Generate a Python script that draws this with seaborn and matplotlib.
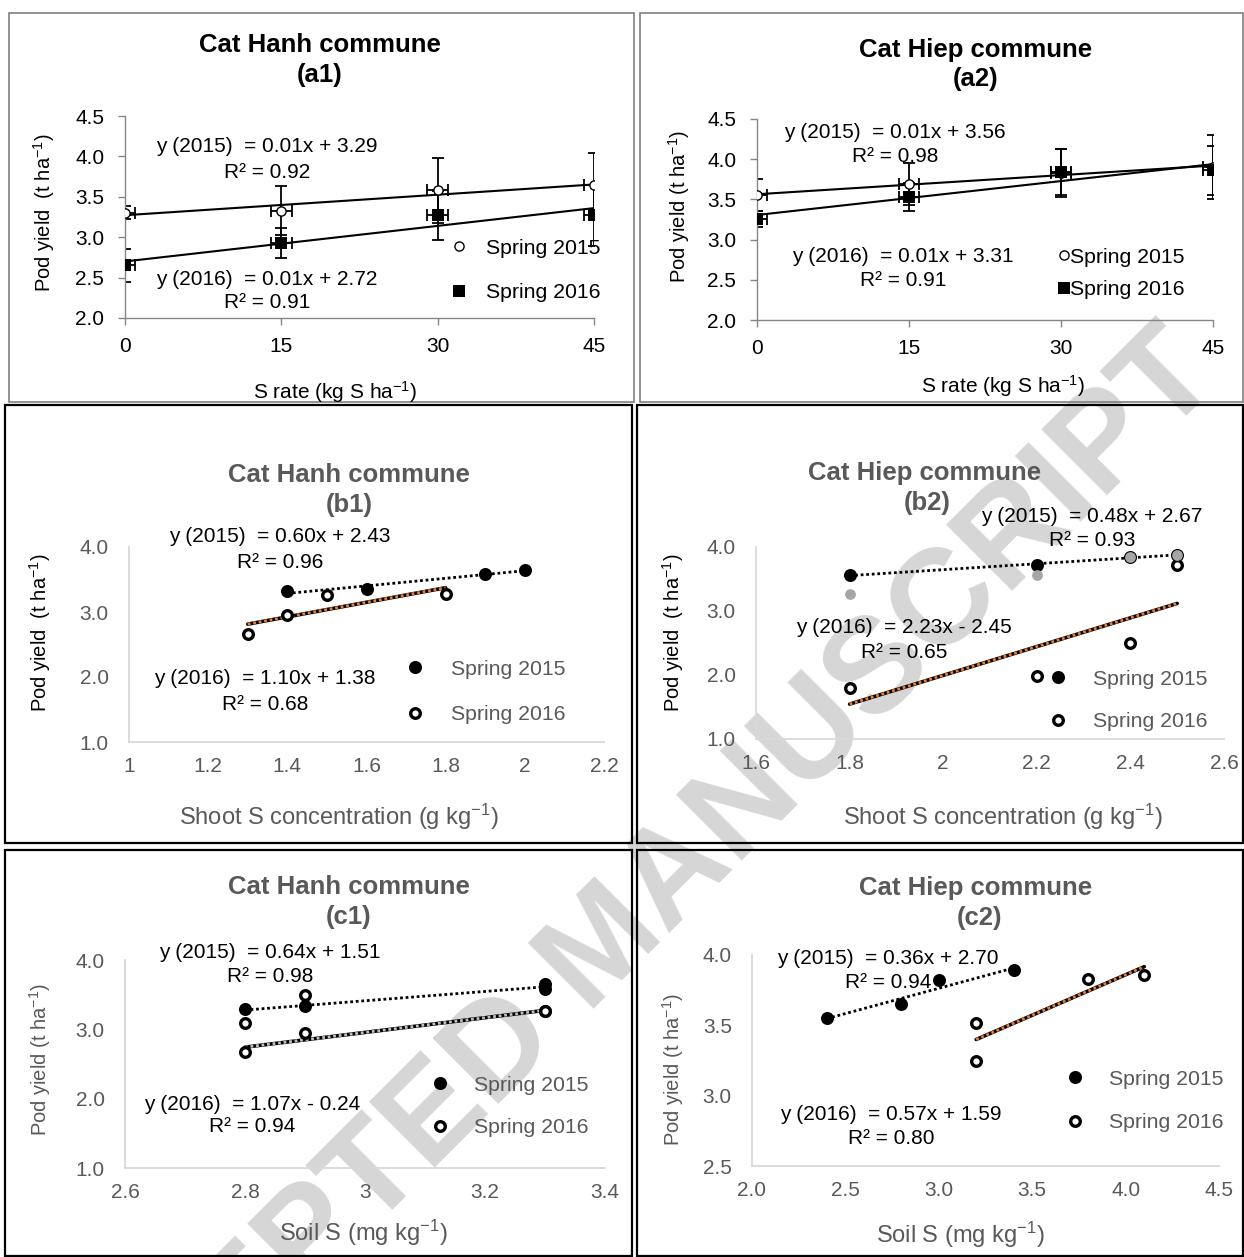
import matplotlib
matplotlib.use('Agg')
import matplotlib.pyplot as plt
from matplotlib.lines import Line2D
from matplotlib.patches import Rectangle
import seaborn as sns

# ---- data ----
rate = [0, 15, 30, 45]
a1_y15 = [3.30, 3.33, 3.58, 3.64]
a1_e15 = [0.08, 0.30, 0.40, 0.40]
a1_y16 = [2.65, 2.93, 3.27, 3.27]
a1_e16 = [0.20, 0.19, 0.30, 0.38]
a2_y15 = [3.55, 3.69, 3.83, 3.90]
a2_e15 = [0.20, 0.26, 0.30, 0.40]
a2_y16 = [3.26, 3.53, 3.84, 3.86]
a2_e16 = [0.10, 0.18, 0.29, 0.31]
rate_err = 1.0

b1_x15 = [1.4, 1.6, 1.9, 2.0]
b1_y15 = [3.32, 3.35, 3.58, 3.65]
b1_x16 = [1.3, 1.4, 1.5, 1.8]
b1_y16 = [2.66, 2.95, 3.26, 3.28]

b2_x = [1.8, 2.2, 2.4, 2.5]
b2_y15 = [3.56, 3.72, 3.84, 3.88]
b2_y16 = [1.80, 1.98, 2.50, 3.72]
b2_grey = [3.27, 3.56, 3.84, 3.87]

c1_x = [2.8, 2.9, 3.3, 3.3]
c1_y15 = [3.29, 3.33, 3.65, 3.58]
c1_y16 = [2.67, 2.94, 3.26, 3.27]
c1_xo = [2.8, 2.9]
c1_yo = [3.09, 3.49]

c2_x15 = [2.4, 2.8, 3.0, 3.4]
c2_y15 = [3.55, 3.65, 3.82, 3.89]
c2_x16 = [3.2, 3.2, 3.8, 4.1]
c2_y16 = [3.52, 3.25, 3.83, 3.86]

sns.set_theme(style='white')
plt.rcParams['font.family'] = ['Liberation Sans', 'DejaVu Sans']
plt.rcParams['mathtext.fontset'] = 'custom'
plt.rcParams['mathtext.rm'] = 'Liberation Sans'
plt.rcParams['mathtext.it'] = 'Liberation Sans:italic'
plt.rcParams['mathtext.bf'] = 'Liberation Sans:bold'

W, H = 1244, 1257
fig = plt.figure(figsize=(W / 100, H / 100), dpi=100)
fig.patch.set_facecolor('white')

GREY = '#595959'
ORANGE = '#ed7d31'
SUP = r'$^{\mathregular{-1}}$'


def fx(x):
    return x / W


def fy(y):
    return 1 - y / H


def add_ax(x0, y0, x1, y1):
    return fig.add_axes([fx(x0), fy(y1), (x1 - x0) / W, (y1 - y0) / H])


def put(x, y, s, size=15, color='black', ha='center', **kw):
    fig.text(fx(x), fy(y), s, fontsize=size, color=color, ha=ha, va='center', **kw)


def frame(x0, y0, x1, y1, color, lw):
    fig.add_artist(Rectangle((fx(x0), fy(y1)), (x1 - x0) / W, (y1 - y0) / H,
                             transform=fig.transFigure, fill=False,
                             edgecolor=color, linewidth=lw, zorder=0))


def eq(x, y1, l1, y2, l2):
    put(x, y1, l1)
    put(x, y2, l2)


def trend(ax, x, y, kind):
    if kind == 'solid':
        sns.regplot(x=x, y=y, ax=ax, ci=None, scatter=False,
                    line_kws=dict(color='black', lw=1.5))
    elif kind == 'dot':
        sns.regplot(x=x, y=y, ax=ax, ci=None, scatter=False,
                    line_kws=dict(color='black', lw=2.0, linestyle=(0, (1, 1))))
    else:
        col = ORANGE if kind == 'orange' else '#bfbfbf'
        sns.regplot(x=x, y=y, ax=ax, ci=None, scatter=False,
                    line_kws=dict(color='black', lw=2.6))
        sns.regplot(x=x, y=y, ax=ax, ci=None, scatter=False,
                    line_kws=dict(color=col, lw=2.0, linestyle=(0, (1, 1))))


def filled(ax, x, y, color='black', s=88):
    sns.scatterplot(x=x, y=y, ax=ax, color=color, s=s, edgecolor=color,
                    linewidth=0, zorder=3)


def hollow(ax, x, y):
    sns.scatterplot(x=x, y=y, ax=ax, color='white', s=48, edgecolor='black',
                    linewidth=2.4, zorder=3)


def style_a(ax, xlim, ylim, xt, yt):
    sns.despine(ax=ax)
    for s in ['left', 'bottom']:
        ax.spines[s].set_color('#868686')
        ax.spines[s].set_linewidth(1.0)
    ax.set_xlim(*xlim)
    ax.set_ylim(*ylim)
    ax.set_xticks(xt)
    ax.set_yticks(yt)
    ax.set_yticklabels([f'{v:.1f}' for v in yt])
    ax.tick_params(axis='both', bottom=True, left=True, direction='out', length=5,
                   width=1, color='#868686', labelsize=15, labelcolor='black')
    ax.tick_params(axis='x', pad=9)
    ax.tick_params(axis='y', pad=10)
    ax.set_xlabel('')
    ax.set_ylabel('')
    ax.patch.set_alpha(0)


def style_b(ax, xlim, ylim, xt, xl, yt, yl):
    sns.despine(ax=ax)
    for s in ['left', 'bottom']:
        ax.spines[s].set_color('#d9d9d9')
        ax.spines[s].set_linewidth(1.3)
    ax.set_xlim(*xlim)
    ax.set_ylim(*ylim)
    ax.set_xticks(xt)
    ax.set_xticklabels(xl)
    ax.set_yticks(yt)
    ax.set_yticklabels(yl)
    ax.tick_params(axis='both', length=0, labelsize=15, labelcolor=GREY)
    ax.tick_params(axis='x', pad=10.5)
    ax.tick_params(axis='y', pad=14.5)
    ax.set_xlabel('')
    ax.set_ylabel('')
    ax.patch.set_alpha(0)


def legend(ax, handles, labels, mx, my, dist, gap, hl=1.0, color='black'):
    fs = 15.3
    fpx = fs * 100 / 72
    ls = (dist - 0.93 * fpx) / fpx
    pad = (gap - hl * fpx / 2) / fpx
    ax.legend(handles, labels, loc='center left',
              bbox_to_anchor=(fx(mx - hl * fpx / 2), fy(my + dist / 2)),
              bbox_transform=fig.transFigure, frameon=False, borderpad=0,
              borderaxespad=0, handlelength=hl, handletextpad=pad,
              labelspacing=ls, fontsize=fs, labelcolor=color)


open_h = Line2D([], [], ls='none', marker='o', markersize=6.9, mfc='white', mec='black', mew=2.4)
fill_h = Line2D([], [], ls='none', marker='o', markersize=9.4, mfc='black', mec='black', mew=0)

# ---- watermark (behind everything) ----
fig.text(fx(605), fy(948), 'ACCEPTED MANUSCRIPT', fontsize=97, fontweight='bold',
         color='#d6d6d6', rotation=45, rotation_mode='anchor',
         ha='center', va='center', zorder=-1)

# ---- panel frames ----
frame(9, 13, 634, 402, '#7f7f7f', 1.2)
frame(640, 13, 1243, 402, '#7f7f7f', 1.2)
frame(5, 405, 632, 843, 'black', 1.6)
frame(637, 405, 1243, 843, 'black', 1.6)
frame(5, 850, 632, 1256, 'black', 1.6)
frame(637, 850, 1243, 1256, 'black', 1.6)

# ---- (a1) ----
ax = add_ax(125, 116, 594, 318)
trend(ax, rate, a1_y15, 'solid')
trend(ax, rate, a1_y16, 'solid')
ax.errorbar(rate, a1_y15, yerr=a1_e15, xerr=rate_err, fmt='none', ecolor='black',
            elinewidth=1.3, capsize=4, capthick=1.3, zorder=2.5)
ax.errorbar(rate, a1_y16, yerr=a1_e16, xerr=rate_err, fmt='none', ecolor='black',
            elinewidth=1.3, capsize=4, capthick=1.3, zorder=2.5)
sns.scatterplot(x=rate, y=a1_y15, ax=ax, marker='o', color='white', s=44,
                edgecolor='black', linewidth=1.0, zorder=3)
sns.scatterplot(x=rate, y=a1_y16, ax=ax, marker='s', color='black', s=72,
                edgecolor='black', linewidth=0, zorder=3)
style_a(ax, (0, 45), (2.0, 4.5), rate, [2.0, 2.5, 3.0, 3.5, 4.0, 4.5])
legend(ax, [Line2D([], [], ls='none', marker='o', markersize=6.6, mfc='white', mec='black', mew=1.0),
            Line2D([], [], ls='none', marker='s', markersize=8.5, mfc='black', mec='black', mew=0)],
       ['Spring 2015', 'Spring 2016'], 459, 248, 45, 27)
put(320, 45, 'Cat Hanh commune', size=18.5, weight='bold')
put(320, 75, '(a1)', size=18.5, weight='bold')
eq(267, 147, 'y (2015)  = 0.01x + 3.29', 172, 'R² = 0.92')
eq(267, 279, 'y (2016)  = 0.01x + 2.72', 303, 'R² = 0.91')
put(335, 392, 'S rate (kg S ha' + SUP + ')')
put(44, 213, 'Pod yield  (t ha' + SUP + ')', size=14.5, rotation=90)

# ---- (a2) ----
ax = add_ax(757, 119, 1213, 320)
trend(ax, rate, a2_y15, 'solid')
trend(ax, rate, a2_y16, 'solid')
ax.errorbar(rate, a2_y15, yerr=a2_e15, xerr=rate_err, fmt='none', ecolor='black',
            elinewidth=1.3, capsize=4, capthick=1.3, zorder=2.5)
ax.errorbar(rate, a2_y16, yerr=a2_e16, xerr=rate_err, fmt='none', ecolor='black',
            elinewidth=1.3, capsize=4, capthick=1.3, zorder=2.5)
sns.scatterplot(x=rate, y=a2_y15, ax=ax, marker='o', color='white', s=44,
                edgecolor='black', linewidth=1.0, zorder=3)
sns.scatterplot(x=rate, y=a2_y16, ax=ax, marker='s', color='black', s=72,
                edgecolor='black', linewidth=0, zorder=3)
style_a(ax, (0, 45), (2.0, 4.5), rate, [2.0, 2.5, 3.0, 3.5, 4.0, 4.5])
legend(ax, [Line2D([], [], ls='none', marker='o', markersize=6.6, mfc='white', mec='black', mew=1.0),
            Line2D([], [], ls='none', marker='s', markersize=8.0, mfc='black', mec='black', mew=0)],
       ['Spring 2015', 'Spring 2016'], 1064, 257, 33, 6, hl=0.5)
put(976, 50, 'Cat Hiep commune', size=18.5, weight='bold')
put(976, 79, '(a2)', size=18.5, weight='bold')
eq(895, 132, 'y (2015)  = 0.01x + 3.56', 157, 'R² = 0.98')
eq(903, 257, 'y (2016)  = 0.01x + 3.31', 280, 'R² = 0.91')
put(1003, 386, 'S rate (kg S ha' + SUP + ')')
put(679, 207, 'Pod yield (t ha' + SUP + ')', size=14.5, rotation=90)

# ---- (b1) ----
ax = add_ax(129, 547, 604, 742)
trend(ax, b1_x15, b1_y15, 'dot')
trend(ax, b1_x16, b1_y16, 'orange')
filled(ax, b1_x15, b1_y15)
hollow(ax, b1_x16, b1_y16)
style_b(ax, (1.0, 2.2), (1.0, 4.0), [1.0, 1.2, 1.4, 1.6, 1.8, 2.0, 2.2],
        ['1', '1.2', '1.4', '1.6', '1.8', '2', '2.2'],
        [1, 2, 3, 4], ['1.0', '2.0', '3.0', '4.0'])
legend(ax, [fill_h, open_h], ['Spring 2015', 'Spring 2016'], 415, 669, 46, 36, color=GREY)
put(349, 475, 'Cat Hanh commune', size=18.5, weight='bold', color=GREY)
put(349, 505, '(b1)', size=18.5, weight='bold', color=GREY)
eq(280, 537, 'y (2015)  = 0.60x + 2.43', 562, 'R² = 0.96')
eq(265, 678, 'y (2016)  = 1.10x + 1.38', 704, 'R² = 0.68')
put(339, 817, 'Shoot S concentration (g kg' + SUP + ')', size=17, color=GREY)
put(40, 633, 'Pod yield  (t ha' + SUP + ')', size=14.5, rotation=90)

# ---- (b2) ----
ax = add_ax(756, 547, 1224, 739)
trend(ax, b2_x, b2_y15, 'dot')
trend(ax, b2_x, b2_y16, 'orange')
filled(ax, b2_x, b2_y15)
hollow(ax, b2_x, b2_y16)
filled(ax, b2_x, b2_grey, color='#a6a6a6', s=60)
style_b(ax, (1.6, 2.6), (1.0, 4.0), [1.6, 1.8, 2.0, 2.2, 2.4, 2.6],
        ['1.6', '1.8', '2', '2.2', '2.4', '2.6'],
        [1, 2, 3, 4], ['1.0', '2.0', '3.0', '4.0'])
legend(ax, [fill_h, open_h], ['Spring 2015', 'Spring 2016'], 1058, 679, 43, 35, color=GREY)
put(925, 473, 'Cat Hiep commune', size=18.5, weight='bold', color=GREY)
put(927, 503, '(b2)', size=18.5, weight='bold', color=GREY)
eq(1092, 517, 'y (2015)  = 0.48x + 2.67', 540, 'R² = 0.93')
eq(904, 628, 'y (2016)  = 2.23x - 2.45', 653, 'R² = 0.65')
put(1003, 817, 'Shoot S concentration (g kg' + SUP + ')', size=17, color=GREY)
put(673, 633, 'Pod yield  (t ha' + SUP + ')', size=14.5, rotation=90)

# ---- (c1) ----
ax = add_ax(125, 960, 605, 1168)
trend(ax, c1_x, c1_y15, 'dot')
trend(ax, c1_x, c1_y16, 'grey')
filled(ax, c1_x, c1_y15)
hollow(ax, c1_x, c1_y16)
hollow(ax, c1_xo, c1_yo)
style_b(ax, (2.6, 3.4), (1.0, 4.0), [2.6, 2.8, 3.0, 3.2, 3.4],
        ['2.6', '2.8', '3', '3.2', '3.4'],
        [1, 2, 3, 4], ['1.0', '2.0', '3.0', '4.0'])
legend(ax, [fill_h, open_h], ['Spring 2015', 'Spring 2016'], 440, 1085, 43, 34, color=GREY)
put(349, 887, 'Cat Hanh commune', size=18.5, weight='bold', color=GREY)
put(349, 917, '(c1)', size=18.5, weight='bold', color=GREY)
eq(270, 952, 'y (2015)  = 0.64x + 1.51', 977, 'R² = 0.98')
eq(252, 1105, 'y (2016)  = 1.07x - 0.24', 1127, 'R² = 0.94')
put(363, 1233, 'Soil S (mg kg' + SUP + ')', size=17, color=GREY)
put(40, 1060, 'Pod yield (t ha' + SUP + ')', size=14.5, rotation=90, color=GREY)

# ---- (c2) ----
ax = add_ax(752, 955, 1219, 1166)
trend(ax, c2_x15, c2_y15, 'dot')
trend(ax, c2_x16, c2_y16, 'orange')
filled(ax, c2_x15, c2_y15)
hollow(ax, c2_x16, c2_y16)
style_b(ax, (2.0, 4.5), (2.5, 4.0), [2.0, 2.5, 3.0, 3.5, 4.0, 4.5],
        ['2.0', '2.5', '3.0', '3.5', '4.0', '4.5'],
        [2.5, 3.0, 3.5, 4.0], ['2.5', '3.0', '3.5', '4.0'])
legend(ax, [fill_h, open_h], ['Spring 2015', 'Spring 2016'], 1075, 1079, 44, 34, color=GREY)
put(976, 888, 'Cat Hiep commune', size=18.5, weight='bold', color=GREY)
put(980, 918, '(c2)', size=18.5, weight='bold', color=GREY)
eq(888, 958, 'y (2015)  = 0.36x + 2.70', 983, 'R² = 0.94')
eq(891, 1114, 'y (2016)  = 0.57x + 1.59', 1138, 'R² = 0.80')
put(960, 1235, 'Soil S (mg kg' + SUP + ')', size=17, color=GREY)
put(673, 1070, 'Pod yield (t ha' + SUP + ')', size=14.5, rotation=90, color=GREY)

fig.savefig('out.png', dpi=100, facecolor='white')
